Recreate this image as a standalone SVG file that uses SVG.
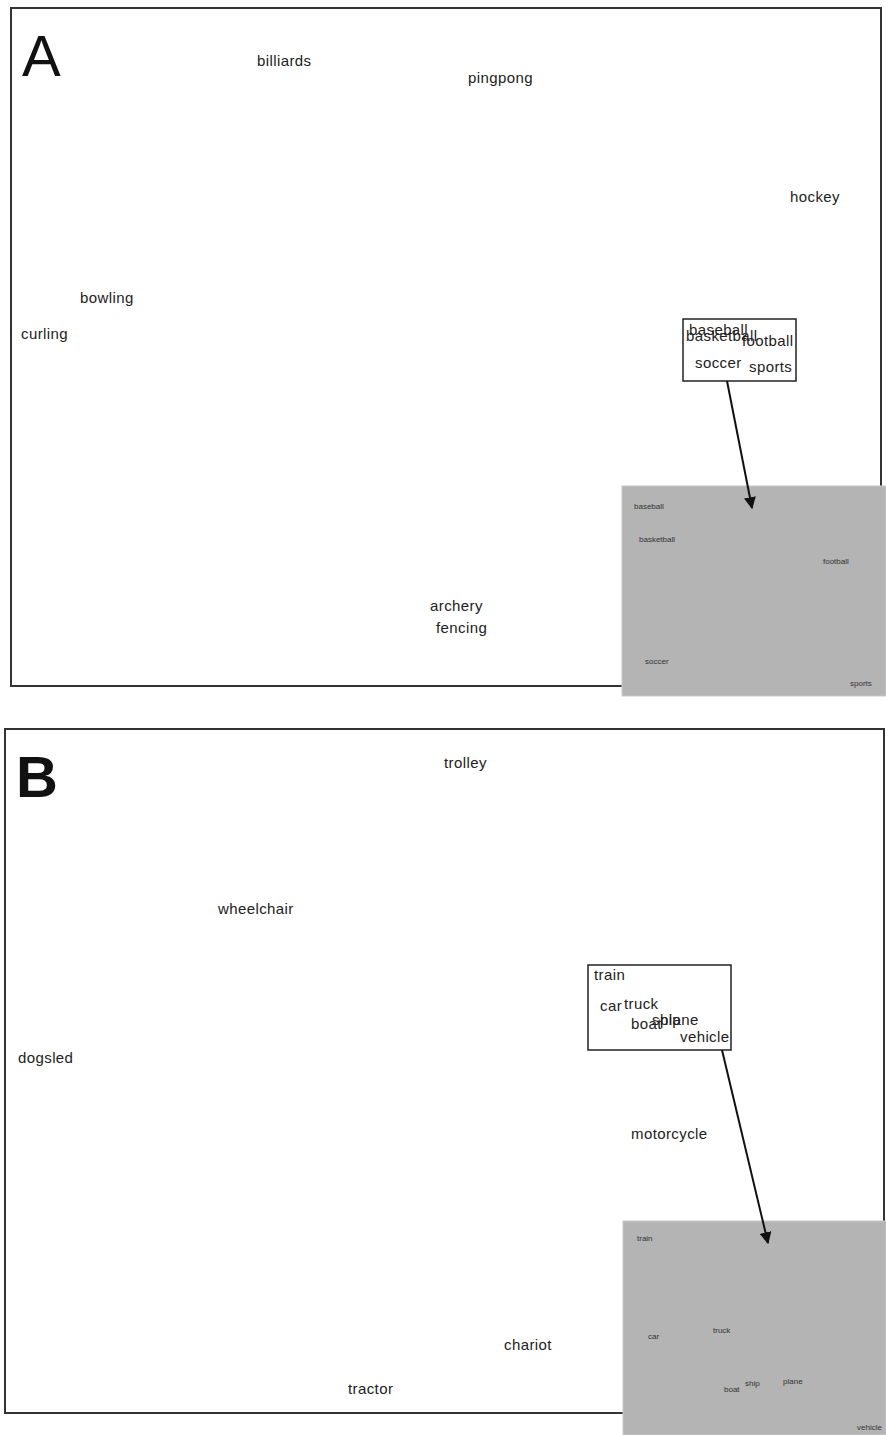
<svg xmlns="http://www.w3.org/2000/svg" width="886" height="1435" viewBox="0 0 886 1435">
<style>
.frame{fill:#fff;stroke:#333;stroke-width:2}
.inset{fill:#b4b4b4;stroke:#c8c8c8;stroke-width:1}
.box{fill:#fff;stroke:#222;stroke-width:1.5}
.lbl{font-family:"Liberation Sans",Arial,sans-serif;font-size:15px;letter-spacing:0.4px;fill:#222}
.sm{font-family:"Liberation Sans",Arial,sans-serif;font-size:8px;fill:#333}
.big{font-family:"Liberation Sans",Arial,sans-serif;font-size:58px;fill:#111}
.con{stroke:#111;stroke-width:2;fill:none;marker-end:url(#ah)}
</style>
<defs>
<marker id="ah" viewBox="0 0 10 10" refX="9" refY="5" markerWidth="6" markerHeight="6" orient="auto">
<path d="M0,0 L10,5 L0,10 z" fill="#111"/>
</marker>
</defs>
<rect width="886" height="1435" fill="#fff"/>
<g id="panelA">
<rect class="frame" x="11" y="8" width="870" height="678"/>
<text class="big" x="22" y="76">A</text>
</g>
<g id="panelB">
<rect class="frame" x="5" y="729" width="879" height="684"/>
<text class="big" x="16" y="797" font-weight="bold">B</text>
</g>
<g id="nodesA">
<text id="billiards" class="lbl" x="257" y="66">billiards</text>
<text id="pingpong" class="lbl" x="468" y="83">pingpong</text>
<text id="hockey" class="lbl" x="790" y="202">hockey</text>
<text id="bowling" class="lbl" x="80" y="303">bowling</text>
<text id="curling" class="lbl" x="21" y="339">curling</text>
<text id="archery" class="lbl" x="430" y="611">archery</text>
<text id="fencing" class="lbl" x="436" y="633">fencing</text>
<g id="boxA">
<rect class="box" x="683" y="319" width="113" height="62"/>
<text class="lbl" x="689" y="335">baseball</text>
<text class="lbl" x="686" y="341">basketball</text>
<text class="lbl" x="742" y="346">football</text>
<text class="lbl" x="695" y="368">soccer</text>
<text class="lbl" x="749" y="372">sports</text>
</g>
<g id="insetA">
<rect class="inset" x="622" y="486" width="264" height="210"/>
<text class="sm" x="634" y="509">baseball</text>
<text class="sm" x="639" y="542">basketball</text>
<text class="sm" x="823" y="564">football</text>
<text class="sm" x="645" y="664">soccer</text>
<text class="sm" x="850" y="686">sports</text>
</g>
</g>
<g id="nodesB">
<text id="trolley" class="lbl" x="444" y="768">trolley</text>
<text id="wheelchair" class="lbl" x="218" y="914">wheelchair</text>
<text id="dogsled" class="lbl" x="18" y="1063">dogsled</text>
<text id="motorcycle" class="lbl" x="631" y="1139">motorcycle</text>
<text id="chariot" class="lbl" x="504" y="1350">chariot</text>
<text id="tractor" class="lbl" x="348" y="1394">tractor</text>
<g id="boxB">
<rect class="box" x="588" y="965" width="143" height="85"/>
<text class="lbl" x="594" y="980">train</text>
<text class="lbl" x="600" y="1011">car</text>
<text class="lbl" x="624" y="1009">truck</text>
<text class="lbl" x="631" y="1029">boat</text>
<text class="lbl" x="652" y="1025">ship</text>
<text class="lbl" x="660" y="1025">plane</text>
<text class="lbl" x="680" y="1042">vehicle</text>
</g>
<g id="insetB">
<rect class="inset" x="623" y="1221" width="263" height="214"/>
<text class="sm" x="637" y="1241">train</text>
<text class="sm" x="648" y="1339">car</text>
<text class="sm" x="713" y="1333">truck</text>
<text class="sm" x="724" y="1392">boat</text>
<text class="sm" x="745" y="1386">ship</text>
<text class="sm" x="783" y="1384">plane</text>
<text class="sm" x="857" y="1430">vehicle</text>
</g>
</g>
<g id="connectors">
<line class="con" x1="727" y1="381" x2="752" y2="508"/>
<line class="con" x1="722" y1="1050" x2="768" y2="1243"/>
</g>
</svg>
